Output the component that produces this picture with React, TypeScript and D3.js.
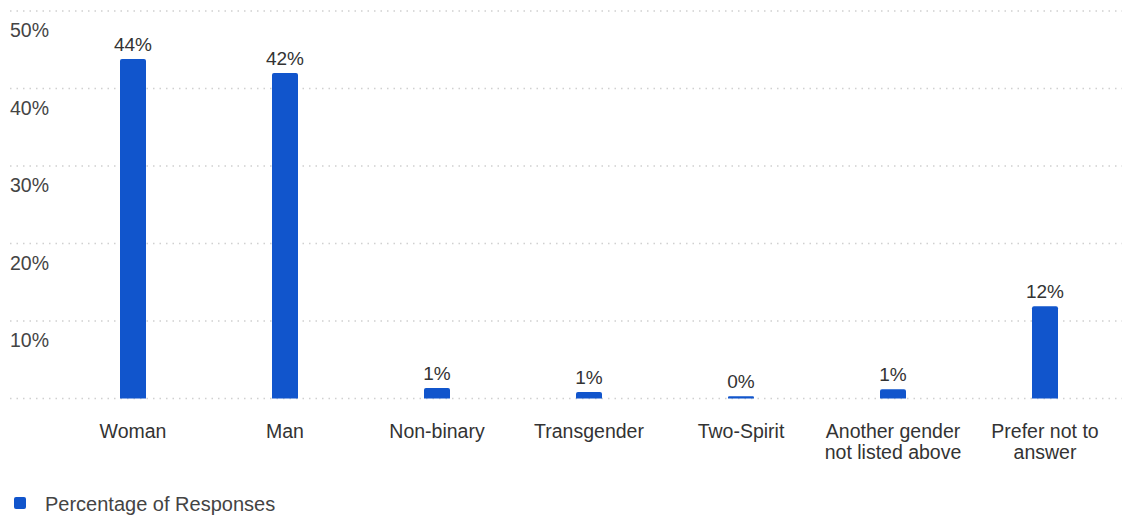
import { useEffect, useRef } from "react";
import * as d3 from "d3";

const CATEGORIES = ["Woman", "Man", "Non-binary", "Transgender", "Two-Spirit", "Another gender\nnot listed above", "Prefer not to\nanswer"]
const VALUES = [43.8, 42.0, 1.35, 0.85, 0.3, 1.2, 11.9]
const VALUE_LABELS = ["44%", "42%", "1%", "1%", "0%", "1%", "12%"]
const Y_TICKS = [10, 20, 30, 40, 50]
const SERIES_NAME = "Percentage of Responses"

const WIDTH = 1125
const HEIGHT = 516
const BLUE = "#1155cc"
const FONT = "Liberation Sans, Arial, sans-serif"

export default function App() {
    const svgRef = useRef<SVGSVGElement>(null)

    useEffect(() => {
        const svg = d3.select(svgRef.current).attr("width", WIDTH).attr("height", HEIGHT)
        svg.selectAll("*").remove()

        const x = d3.scaleBand().domain(CATEGORIES).range([57, 1121]).paddingInner(0)
        const y = d3.scaleLinear().domain([0, 50]).range([398.5, 11])

        /* gridlines */
        const grid = svg.append("g")
        grid.selectAll("line")
            .data([0, ...Y_TICKS])
            .join("line")
            .attr("x1", 10)
            .attr("x2", 1122)
            .attr("y1", d => y(d))
            .attr("y2", d => y(d))
            .attr("stroke", "#d0d0d0")
            .attr("stroke-width", 1.5)
            .attr("stroke-dasharray", "1.5,5")

        /* y labels (sit below their line) */
        svg.append("g").selectAll("text")
            .data(Y_TICKS)
            .join("text")
            .attr("x", 10)
            .attr("y", d => y(d) + 26)
            .text(d => d + "%")
            .attr("font-family", FONT)
            .attr("font-size", 19.5)
            .attr("fill", "#444")

        /* bars */
        const bw = 26
        svg.append("g").selectAll("path")
            .data(VALUES)
            .join("path")
            .attr("d", (d, i) => {
                const cx = x(CATEGORIES[i])! + x.bandwidth() / 2
                const top = y(d)
                const bot = y(0)
                const h = bot - top
                const r = Math.min(2, h / 2)
                const l = cx - bw / 2, rr = cx + bw / 2
                return `M${l},${bot} L${l},${top + r} Q${l},${top} ${l + r},${top} L${rr - r},${top} Q${rr},${top} ${rr},${top + r} L${rr},${bot} Z`
            })
            .attr("fill", BLUE)

        /* value labels */
        svg.append("g").selectAll("text")
            .data(VALUES)
            .join("text")
            .attr("x", (d, i) => x(CATEGORIES[i])! + x.bandwidth() / 2)
            .attr("y", d => y(d) - 8)
            .attr("text-anchor", "middle")
            .text((d, i) => VALUE_LABELS[i])
            .attr("font-family", FONT)
            .attr("font-size", 19)
            .attr("fill", "#333")

        /* category labels */
        const cat = svg.append("g")
        CATEGORIES.forEach(c => {
            const cx = x(c)! + x.bandwidth() / 2
            const t = cat.append("text")
                .attr("x", cx)
                .attr("y", 438)
                .attr("text-anchor", "middle")
                .attr("font-family", FONT)
                .attr("font-size", 19.5)
                .attr("fill", "#333")
            c.split("\n").forEach((line, j) => {
                t.append("tspan")
                    .attr("x", cx)
                    .attr("dy", j === 0 ? 0 : 21)
                    .text(line)
            })
        })

        /* legend */
        const lg = svg.append("g")
        lg.append("rect")
            .attr("x", 14).attr("y", 497)
            .attr("width", 12).attr("height", 12)
            .attr("rx", 2)
            .attr("fill", BLUE)
        lg.append("text")
            .attr("x", 45).attr("y", 511)
            .text(SERIES_NAME)
            .attr("font-family", FONT)
            .attr("font-size", 20)
            .attr("fill", "#444")
    }, [])

    return (
        <div style={{ position: "absolute", left: 0, top: 0, background: "#fff" }}>
            <svg ref={svgRef} style={{ display: "block" }}></svg>
        </div>
    )
}
